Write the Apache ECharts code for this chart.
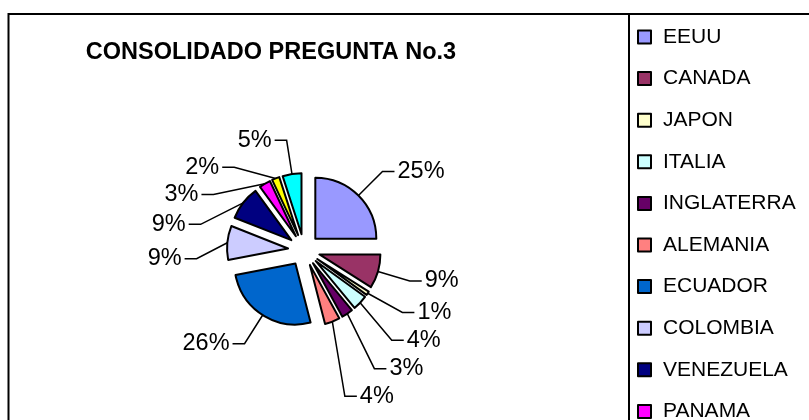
<!DOCTYPE html>
<html>
<head>
<meta charset="utf-8">
<script src="https://cdn.jsdelivr.net/npm/echarts@6/dist/echarts.min.js"></script>
<style>
html,body{margin:0;padding:0;background:#fff;}
#main{width:809px;height:420px;}
</style>
</head>
<body>
<div id="main"></div>
<script>
var titleText = 'CONSOLIDADO PREGUNTA No.3';
var categories = ['EEUU','CANADA','JAPON','ITALIA','INGLATERRA','ALEMANIA','ECUADOR','COLOMBIA','VENEZUELA','PANAMA','MEXICO','OTROS'];
var values = [25, 9, 1, 4, 3, 4, 26, 9, 9, 3, 2, 5];
var colors = ['#9999FF','#993366','#FFFFCC','#CCFFFF','#660066','#FF8080','#0066CC','#CCCCFF','#000080','#FF00FF','#FFFF00','#00FFFF'];

var FONT = 'Liberation Sans, Arial, sans-serif';
var chart = echarts.init(document.getElementById('main'), null, {renderer:'canvas'});
var data = categories.map(function(n,i){
  return {name:n, value:values[i], selected:true, itemStyle:{color:colors[i]}};
});
chart.setOption({
  animation:false,
  backgroundColor:'#fff',
  title:{
    text:titleText, left:266, top:36, textAlign:'center',
    textStyle:{fontFamily:FONT, fontSize:23.5, fontWeight:'bold', color:'#000'}
  },
  legend:{
    orient:'vertical', left:637, top:26.5, height:700, padding:0,
    itemWidth:13, itemHeight:13, itemGap:20.6, icon:'rect',
    data:categories,
    selectedMode:false,
    textStyle:{fontFamily:FONT, fontSize:21, color:'#000', lineHeight:21, padding:[0,0,0,7]}
  },
  graphic:[
    {type:'rect', shape:{x:8.5, y:14, width:900, height:500}, style:{fill:'none', stroke:'#000', lineWidth:2}, silent:true, z:0},
    {type:'rect', shape:{x:629, y:14, width:300, height:500}, style:{fill:'none', stroke:'#000', lineWidth:2}, silent:true, z:0}
  ],
  series:[{
    type:'pie',
    center:[304,250],
    radius:61,
    startAngle:90,
    clockwise:true,
    selectedMode:'multiple',
    selectedOffset:16,
    avoidLabelOverlap:true,
    labelLayout:{hideOverlap:false},
    emphasis:{scale:false, disabled:true},
    itemStyle:{borderColor:'#000', borderWidth:2},
    select:{itemStyle:{borderColor:'#000', borderWidth:2}},
    label:{
      show:true, position:'outside', formatter:'{d}%',
      fontFamily:FONT, fontSize:23.5, color:'#000', distanceToLabelLine:3
    },
    labelLine:{show:true, length:34, length2:12, lineStyle:{color:'#000', width:1.5}},
    data:data
  }]
});
</script>
</body>
</html>
